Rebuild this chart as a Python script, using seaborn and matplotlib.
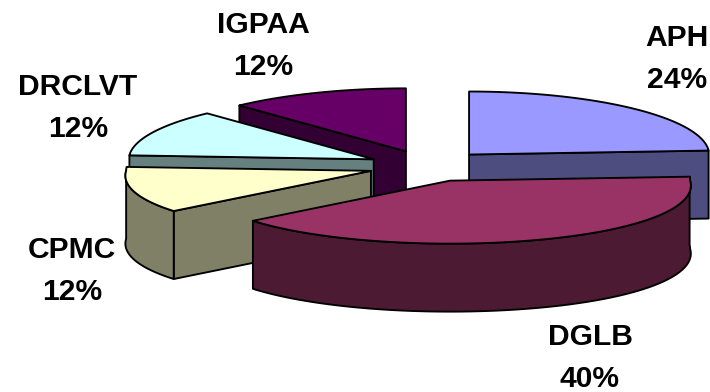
import numpy as np
import matplotlib
matplotlib.use("Agg")
import matplotlib.pyplot as plt
from matplotlib.patches import Polygon
import seaborn as sns

# Shares of the pie, clockwise from twelve o'clock
categories = ["APH", "DGLB", "CPMC", "DRCLVT", "IGPAA"]
shares = [24, 40, 12, 12, 12]
top_colors = ["#9999FF", "#993366", "#FFFFCC", "#CCFFFF", "#660066"]
label_centers = [(677, 59), (590, 358), (72, 271), (78, 108), (263, 46)]

# Pie layout in figure pixels
CENTER_X, CENTER_Y = 428, 166
RADIUS_X, RADIUS_Y = 240, 63
DEPTH = 68
EXPLODE = 0.25

sns.set_theme(style="white")
plt.rcParams["font.family"] = ["Liberation Sans", "DejaVu Sans"]

palette = sns.color_palette(top_colors)
fig, ax = plt.subplots(figsize=(7.1, 3.92), dpi=100)
ax.set_position([0, 0, 1, 1])
ax.set_xlim(0, 710)
ax.set_ylim(392, 0)
ax.axis("off")


def rim_point(apex, deg):
    """Point on a slice's upper rim; the near side bulges slightly in perspective."""
    t = np.radians(deg)
    stretch = 1 + 0.08 * max(0.0, -np.cos(t)) + 0.02 * max(0.0, -np.sin(t))
    return (apex[0] + RADIUS_X * stretch * np.sin(t),
            apex[1] - RADIUS_Y * np.cos(t))


def face(points, color, z):
    ax.add_patch(Polygon(points, closed=True, facecolor=color, edgecolor="black",
                         linewidth=1.35, joinstyle="round", zorder=z))


total = sum(shares)
edges = np.concatenate([[0], np.cumsum(shares)]) * 360 / total
slices = []
for i, name in enumerate(categories):
    start, end = edges[i], edges[i + 1]
    mid = np.radians((start + end) / 2)
    apex = (CENTER_X + EXPLODE * RADIUS_X * np.sin(mid),
            CENTER_Y - EXPLODE * RADIUS_Y * np.cos(mid))
    slices.append((apex, start, end, palette[i]))

# Back slices first, so the nearer ones cover them
slices.sort(key=lambda s: s[0][1])
for n, (apex, start, end, color) in enumerate(slices):
    z = 2 + n * 3
    wall = tuple(c * 0.5 for c in color)
    drop = np.array([0, DEPTH])

    # Cut faces that turn towards the viewer
    for deg, visible in ((start, np.sin(np.radians(start)) < 0),
                         (end, np.sin(np.radians(end)) > 0)):
        if visible:
            corner = rim_point(apex, deg)
            face([apex, corner, np.add(corner, drop), np.add(apex, drop)], wall, z)

    # Outer wall along the near half of the rim
    if end > 90 and start < 270:
        arc = [rim_point(apex, d) for d in np.linspace(start, min(end, 270), 80)]
        face(arc + [np.add(p, drop) for p in arc[::-1]], wall, z + 1)

    # Top surface
    arc = [rim_point(apex, d) for d in np.linspace(start, end, 120)]
    face([apex] + arc, color, z + 2)

for name, share, (x, y) in zip(categories, shares, label_centers):
    ax.text(x, y, f"{name}\n{share}%", ha="center", va="center", fontsize=21.6,
            fontweight="bold", color="black", linespacing=1.6, zorder=40)

fig.savefig("out.png", dpi=100)
